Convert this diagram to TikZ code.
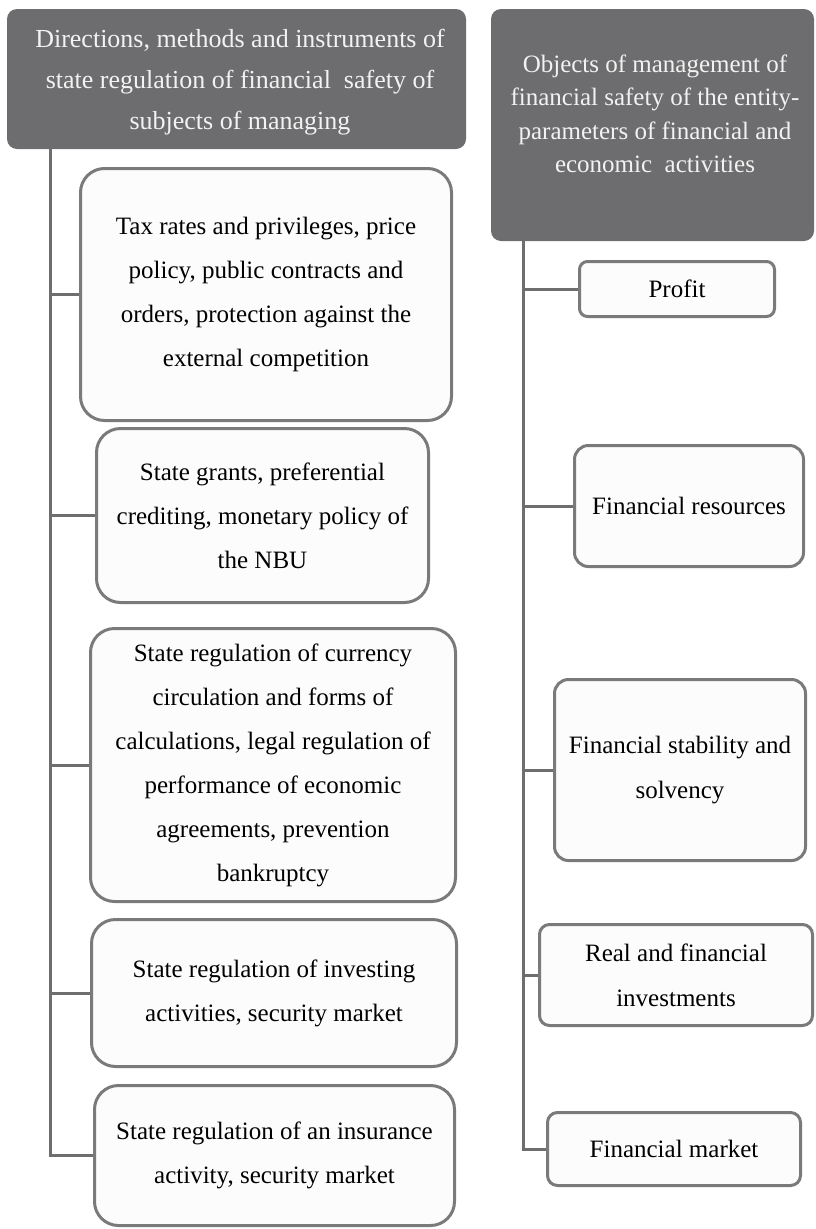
\documentclass[tikz,border=0pt]{standalone}
\usepackage{fontspec}
\setmainfont{Liberation Serif}
\definecolor{hdrgray}{HTML}{6D6D6F}
\definecolor{boxgray}{HTML}{7A7A7A}
\definecolor{boxfill}{HTML}{FCFCFC}
\definecolor{linegray}{HTML}{6E6E6E}
\definecolor{hdrtext}{HTML}{F2F2F2}
\tikzset{
  hdr/.style={fill=hdrgray, draw=none, rounded corners=10pt, inner sep=0pt},
  hdrtxt/.style={text=hdrtext, align=center, inner sep=0pt},
  lbox/.style={draw=boxgray, line width=3pt, fill=boxfill, rounded corners=24pt, align=center, inner sep=0pt,
    font=\fontsize{25}{44}\selectfont},
  rbox/.style={draw=boxgray, line width=3pt, fill=boxfill, rounded corners=14pt, align=center, inner sep=0pt,
    font=\fontsize{25}{45}\selectfont},
  conn/.style={draw=linegray, line width=3pt}
}
\begin{document}
\begin{tikzpicture}[x=1pt,y=-1pt]
\useasboundingbox (0,0) rectangle (815,1229);
% headers
\node[hdr, minimum width=459pt, minimum height=140pt] (lh) at (236.5,79) {};
\node[hdrtxt, font=\fontsize{26}{41}\selectfont] (lht) at (240,82)
  {Directions, methods and instruments of\\ state regulation of financial\ \ safety of\\ subjects of managing};
\node[hdr, minimum width=323pt, minimum height=232pt] (rh) at (652.5,125) {};
\node[hdrtxt, font=\fontsize{25}{33.5}\selectfont] (rht) at (655,114)
  {Objects of management of\\ financial safety of the entity-\\ parameters of financial and\\ economic\ \ activities};
% left boxes
\node[lbox, minimum width=371pt, minimum height=252pt] (b1) at (266,294.5)
  {Tax rates and privileges, price\\ policy, public contracts and\\ orders, protection against the\\ external competition};
\node[lbox, minimum width=332pt, minimum height=174pt] (b2) at (262.5,515.5)
  {State grants, preferential\\ crediting, monetary policy of\\ the NBU};
\node[lbox, minimum width=365pt, minimum height=273pt] (b3) at (273,765)
  {State regulation of currency\\ circulation and forms of\\ calculations, legal regulation of\\ performance of economic\\ agreements, prevention\\ bankruptcy};
\node[lbox, minimum width=365pt, minimum height=147pt] (b4) at (274,993)
  {State regulation of investing\\ activities, security market};
\node[lbox, minimum width=360pt, minimum height=140pt] (b5) at (274.5,1155.5)
  {State regulation of an insurance\\ activity, security market};
% right boxes
\node[rbox, rounded corners=8pt, minimum width=195pt, minimum height=55pt] (r1) at (677,289) {Profit};
\node[rbox, minimum width=229pt, minimum height=121pt] (r2) at (689,506) {Financial resources};
\node[rbox, minimum width=251pt, minimum height=181pt] (r3) at (680,770) {Financial stability and\\ solvency};
\node[rbox, rounded corners=10pt, minimum width=273pt, minimum height=101pt] (r4) at (676,975) {Real and financial\\ investments};
\node[rbox, rounded corners=10pt, minimum width=253pt, minimum height=73pt] (r5) at (674,1149) {Financial market};
% connectors
\coordinate (lx) at (50,0);
\coordinate (rx) at (523,0);
\draw[conn] (lh.south -| lx) |- (b5.west);
\foreach \n in {b1,b2,b3,b4} \draw[conn] (\n.west -| lx) -- (\n.west);
\draw[conn] (rh.south -| rx) |- (r5.west);
\foreach \n in {r1,r2,r3,r4} \draw[conn] (\n.west -| rx) -- (\n.west);
\end{tikzpicture}
\end{document}
